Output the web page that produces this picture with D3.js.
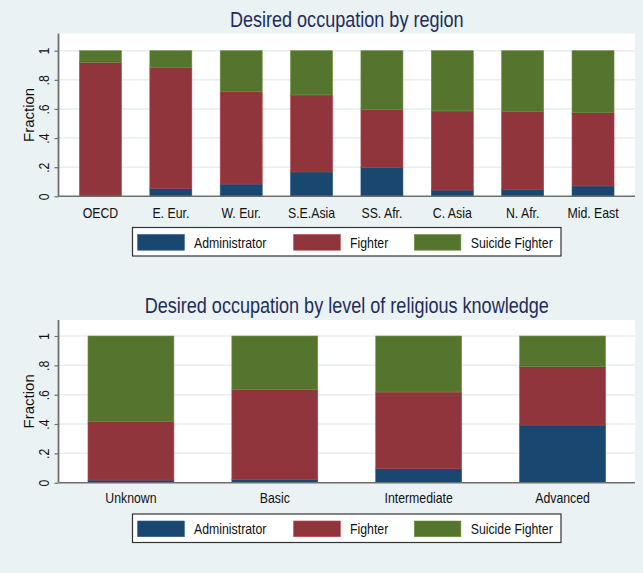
<!DOCTYPE html>
<html>
<head>
<meta charset="utf-8">
<script src="https://cdn.jsdelivr.net/npm/d3@7/dist/d3.min.js"></script>
<style>
  html, body { margin: 0; padding: 0; background: #eaf2f3; }
  svg { display: block; }
  text { font-family: "Liberation Sans", Arial, sans-serif; }
</style>
</head>
<body>
<svg id="chart" width="643" height="573"></svg>
<script>
// ---- data ----
const seriesNames = ["Administrator", "Fighter", "Suicide Fighter"];
const seriesColors = ["#1a476f", "#90353b", "#55752f"];

const regionCategories = ["OECD", "E. Eur.", "W. Eur.", "S.E.Asia", "SS. Afr.", "C. Asia", "N. Afr.", "Mid. East"];
const regionAdministrator = [0.000, 0.055, 0.084, 0.167, 0.199, 0.043, 0.048, 0.071];
const regionFighter       = [0.920, 0.831, 0.634, 0.529, 0.398, 0.543, 0.533, 0.503];
const regionSuicide       = [0.080, 0.114, 0.282, 0.304, 0.403, 0.414, 0.419, 0.426];

const knowledgeCategories = ["Unknown", "Basic", "Intermediate", "Advanced"];
const knowledgeAdministrator = [0.018, 0.023, 0.095, 0.393];
const knowledgeFighter       = [0.401, 0.614, 0.523, 0.398];
const knowledgeSuicide       = [0.581, 0.363, 0.382, 0.209];

const yTickValues = [0, 0.2, 0.4, 0.6, 0.8, 1];
const yTickLabels = ["0", ".2", ".4", ".6", ".8", "1"];
const yAxisTitle = "Fraction";

const NARROW = 0.82; // emulate a narrow (condensed) face
function narrow(sel) {
  sel.each(function () {
    const w = this.getComputedTextLength();
    if (w > 0) {
      this.setAttribute("textLength", (w * NARROW).toFixed(2));
      this.setAttribute("lengthAdjust", "spacingAndGlyphs");
    }
  });
}

const svg = d3.select("#chart");
svg.append("rect").attr("width", 643).attr("height", 573).attr("fill", "#eaf2f3");

function drawPanel(cfg) {
  const g = svg.append("g");
  const x = d3.scaleBand().domain(cfg.categories)
    .range([cfg.left, cfg.right]).paddingInner(0.403).paddingOuter(cfg.outer);
  const y = d3.scaleLinear().domain([0, 1]).range([cfg.y0, cfg.y1]);

  // plot region
  g.append("rect").attr("x", cfg.left).attr("y", cfg.top)
    .attr("width", cfg.right - cfg.left).attr("height", cfg.y0 - cfg.top)
    .attr("fill", "#ffffff");

  // gridlines
  g.selectAll("line.grid").data(yTickValues.filter(v => v > 0)).join("line")
    .attr("x1", cfg.left).attr("x2", cfg.right)
    .attr("y1", d => y(d)).attr("y2", d => y(d))
    .attr("stroke", "#e6eef0").attr("stroke-width", 1.5);

  // stacked bars
  const rows = cfg.categories.map((c, i) => ({
    cat: c, "Administrator": cfg.admin[i], "Fighter": cfg.fighter[i], "Suicide Fighter": cfg.suicide[i]
  }));
  const stack = d3.stack().keys(seriesNames)(rows);
  stack.forEach((layer, li) => {
    g.append("g").selectAll("rect").data(layer).join("rect")
      .attr("x", d => x(d.data.cat))
      .attr("width", x.bandwidth())
      .attr("y", d => y(d[1]))
      .attr("height", d => y(d[0]) - y(d[1]))
      .attr("fill", seriesColors[li])
      .attr("stroke", d3.color(seriesColors[li]).brighter(0.6))
      .attr("stroke-width", 0.6);
  });

  // y axis
  const yAxis = d3.axisLeft(y).tickValues(yTickValues)
    .tickFormat((d, i) => yTickLabels[i]).tickSize(4).tickPadding(5);
  const ya = g.append("g").attr("transform", `translate(${cfg.left},0)`).call(yAxis);
  ya.select(".domain").remove();
  ya.selectAll(".tick line").attr("stroke", "#6e6e6e").attr("stroke-width", 1.2);
  ya.selectAll(".tick text")
    .attr("x", 0).attr("dy", 0)
    .attr("text-anchor", "middle")
    .attr("transform", "translate(-9.5,0) rotate(-90)")
    .attr("font-size", 15).attr("fill", "#111")
    .call(narrow);
  g.append("line").attr("x1", cfg.left).attr("x2", cfg.left)
    .attr("y1", cfg.top).attr("y2", cfg.y0)
    .attr("stroke", "#6e6e6e").attr("stroke-width", 1.8);

  // x axis
  const xAxis = d3.axisBottom(x).tickSize(0).tickPadding(0);
  const xa = g.append("g").attr("transform", `translate(0,${cfg.y0})`).call(xAxis);
  xa.select(".domain").remove();
  xa.selectAll(".tick text").attr("dy", 0).attr("y", cfg.xLabelBase - cfg.y0)
    .attr("font-size", 15).attr("fill", "#111")
    .call(narrow);
  g.append("line").attr("x1", cfg.left).attr("x2", cfg.right)
    .attr("y1", cfg.y0).attr("y2", cfg.y0)
    .attr("stroke", "#6e6e6e").attr("stroke-width", 1.6);

  // y title
  g.append("text")
    .attr("transform", `translate(34,${(cfg.top + cfg.y0) / 2}) rotate(-90)`)
    .attr("text-anchor", "middle")
    .attr("font-size", 15).attr("fill", "#111").text(yAxisTitle);

  // title
  g.append("text").attr("x", (cfg.left + cfg.right) / 2).attr("y", cfg.titleBase)
    .attr("text-anchor", "middle").attr("font-size", 22).attr("fill", "#1e2d5c")
    .text(cfg.title).call(narrow);

  // legend
  const lg = g.append("g");
  lg.append("rect").attr("x", 132.5).attr("y", cfg.legTop)
    .attr("width", 428.5).attr("height", 28.5)
    .attr("fill", "#fff").attr("stroke", "#333").attr("stroke-width", 1.2);
  const swX = [137.7, 293.7, 414.3];
  const txX = [194, 350, 470.7];
  seriesNames.forEach((s, i) => {
    lg.append("rect").attr("x", swX[i]).attr("y", cfg.legTop + 7)
      .attr("width", 46.6).attr("height", 15.7).attr("fill", seriesColors[i])
      .attr("stroke", d3.color(seriesColors[i]).brighter(0.6)).attr("stroke-width", 0.6);
    lg.append("text").attr("x", txX[i]).attr("y", cfg.legTop + 20)
      .attr("font-size", 15).attr("fill", "#111").text(s).call(narrow);
  });
}

drawPanel({
  title: "Desired occupation by region",
  categories: regionCategories, admin: regionAdministrator, fighter: regionFighter, suicide: regionSuicide,
  left: 58.5, right: 635, top: 33.5, y0: 196.3, y1: 50.7, outer: 0.298,
  titleBase: 26.5, xLabelBase: 218, legTop: 227.5
});
drawPanel({
  title: "Desired occupation by level of religious knowledge",
  categories: knowledgeCategories, admin: knowledgeAdministrator, fighter: knowledgeFighter, suicide: knowledgeSuicide,
  left: 58.5, right: 635, top: 320, y0: 482.7, y1: 336, outer: 0.205,
  titleBase: 313.3, xLabelBase: 503.5, legTop: 514
});
</script>
</body>
</html>
